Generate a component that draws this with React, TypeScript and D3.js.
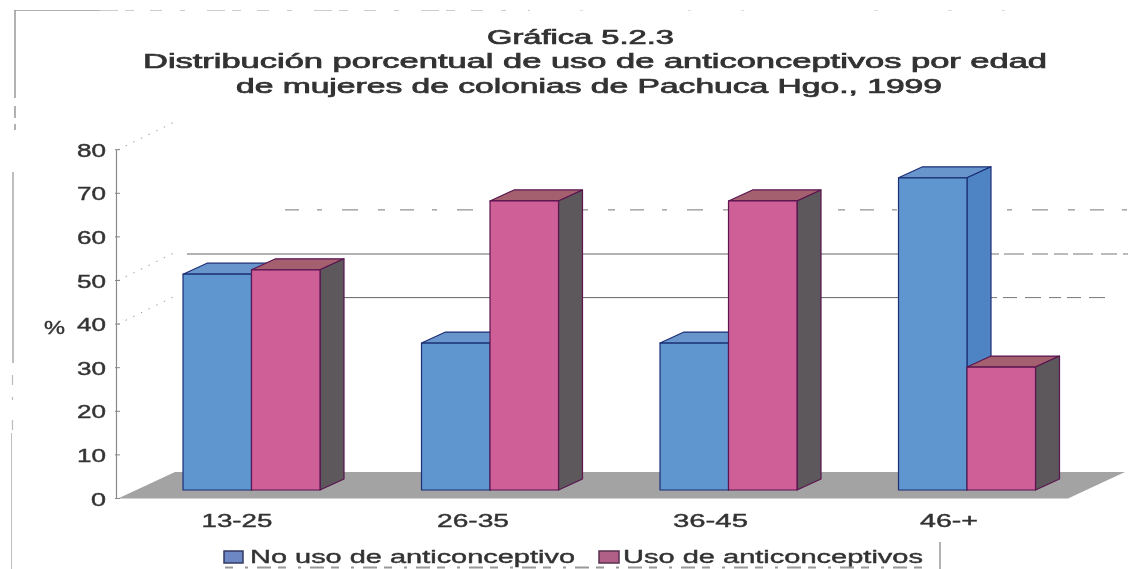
import React from "react";
import * as d3 from "d3";

const categories = ["13-25", "26-35", "36-45", "46-+"];
const seriesNames = ["No uso de anticonceptivo", "Uso de anticonceptivos"];
const noUso = [49.5, 33.7, 33.7, 71.6];
const uso = [50.5, 66.3, 66.3, 28.2];
const yTicks = [0, 10, 20, 30, 40, 50, 60, 70, 80];
const titleLines = [
  "Gráfica 5.2.3",
  "Distribución porcentual de uso de anticonceptivos por edad",
  "de mujeres de colonias de Pachuca Hgo., 1999",
];

const W = 1131, H = 569;
const FONT = "'Liberation Sans', Arial, sans-serif";
const TXT = "#333";
const COL = [
  { front: "#5f96cf", top: "#6896cc", side: "#4f84c4", edge: "#1d2f75" },
  { front: "#cf5f97", top: "#a5616f", side: "#5c585c", edge: "#5a1550" },
];

const axisY = d3.scaleLinear().domain([0, 80]).range([498.5, 149.7]);
const DX = 24, DY = 11;
const BASE = 490;
const barY = d3.scaleLinear().domain([0, 80]).range([BASE, BASE - 348.8]);
const band = d3.scaleBand<string>().domain(categories).range([132.25, 1086.25]).paddingInner(0.4256).paddingOuter(0.2128);
const inner = d3.scaleBand<string>().domain(seriesNames).range([0, band.bandwidth()]);

const poly = (pts: [number, number][]) => d3.line()(pts)! + "Z";

function T({ x, y, w, size, anchor = "start", children, sw = 0.4 }: any) {
  return (
    <text x={x} y={y} fontFamily={FONT} fontSize={size} fill={TXT} stroke={TXT} strokeWidth={sw}
      textAnchor={anchor} textLength={w} lengthAdjust="spacingAndGlyphs">
      {children}
    </text>
  );
}

function Bar({ x, w, v, c }: any) {
  const t = barY(v);
  return (
    <g stroke={c.edge} strokeWidth={1.2} strokeLinejoin="round">
      <path d={poly([[x, t], [x + DX, t - DY], [x + w + DX, t - DY], [x + w, t]])} fill={c.top} />
      <path d={poly([[x + w, t], [x + w + DX, t - DY], [x + w + DX, BASE - DY], [x + w, BASE]])} fill={c.side} />
      <rect x={x} y={t} width={w} height={BASE - t} fill={c.front} />
    </g>
  );
}

export default function App() {
  const back = 26.5;
  const floor = poly([[118, axisY(0)], [175, axisY(0) - back], [1125, axisY(0) - back], [1068, axisY(0)]]);
  const titleGeom = [
    { x: 487, w: 187, y: 44 },
    { x: 143, w: 904, y: 68 },
    { x: 236, w: 706, y: 92.5 },
  ];
  const tickW = (t: number) => (t === 0 ? 15 : 29);
  const catGeom = [
    { c: 237, w: 71 }, { c: 473, w: 72 }, { c: 710.5, w: 75 }, { c: 949, w: 58 },
  ];
  return (
    <svg width={W} height={H} viewBox={`0 0 ${W} ${H}`} style={{ position: "absolute", left: 0, top: 0, background: "#fff" }}>
      <defs>
        <filter id="soft" x="0" y="0" width="100%" height="100%"><feGaussianBlur stdDeviation="0.6" /></filter>
      </defs>
      <g filter="url(#soft)">
        {/* scanned frame */}
        <line x1={14} x2={100} y1={10} y2={10} stroke="#999" strokeWidth={1.5} />
        <line x1={100} x2={530} y1={10} y2={10} stroke="#999" strokeWidth={1.2} strokeDasharray="18 7 9 16 12 18 5 22" />
        <line x1={580} x2={1030} y1={10} y2={10} stroke="#bbb" strokeWidth={1.2} strokeDasharray="3 105 3 50 3 130 4 70 4 50" />
        <line x1={15} x2={15} y1={10} y2={130} stroke="#999" strokeWidth={1.5} strokeDasharray="88 8 12 6 6" />
        <line x1={13} x2={13} y1={172} y2={363} stroke="#aaa" strokeWidth={1.5} />
        <line x1={12.5} x2={12.5} y1={375} y2={430} stroke="#bbb" strokeWidth={1.2} strokeDasharray="10 12 3 20" />
        <line x1={11} x2={11} y1={433} y2={569} stroke="#aaa" strokeWidth={1.5} />

        {/* back wall gridlines */}
        <line x1={285} x2={1130} y1={axisY(60) - back - 0.5} y2={axisY(60) - back - 0.5} stroke="#777" strokeDasharray="14 18 5 20 16 20 7 15" />
        <line x1={187} x2={985} y1={axisY(50) - back} y2={axisY(50) - back} stroke="#666" />
        <line x1={985} x2={1128} y1={axisY(50) - back} y2={axisY(50) - back} stroke="#777" strokeDasharray="14 5 20 8 16 6" />
        <line x1={183} x2={985} y1={axisY(40) - back} y2={axisY(40) - back} stroke="#666" />
        <line x1={985} x2={1110} y1={axisY(40) - back} y2={axisY(40) - back} stroke="#777" strokeDasharray="12 6 14 8 16 8" />
        {[80, 50, 40].map((t) => (
          <line key={t} x1={118} y1={axisY(t)} x2={176} y2={axisY(t) - back - 2} stroke="#999" strokeDasharray="1.5 7" />
        ))}

        {/* floor */}
        <path d={floor} fill="#a3a3a3" />

        {/* y axis */}
        <line x1={116.5} x2={116.5} y1={axisY(80)} y2={axisY(0)} stroke="#8a8a8a" strokeWidth={1.2} />
        {yTicks.map((t) => (
          <g key={t}>
            <line x1={115} x2={120} y1={axisY(t)} y2={axisY(t)} stroke="#888" />
            <T x={106} y={axisY(t) + 7} size={18} anchor="end" w={tickW(t)}>{t}</T>
          </g>
        ))}
        <T x={44} y={333.5} size={18} w={21}>%</T>

        {/* bars */}
        {categories.map((cat, i) => {
          const x0 = band(cat)!;
          const w = inner.bandwidth();
          return (
            <g key={cat}>
              <Bar x={x0 + inner(seriesNames[0])!} w={w} v={noUso[i]} c={COL[0]} />
              <Bar x={x0 + inner(seriesNames[1])!} w={w} v={uso[i]} c={COL[1]} />
            </g>
          );
        })}

        {/* category labels */}
        {categories.map((cat, i) => (
          <T key={cat} x={catGeom[i].c} y={527} size={18} anchor="middle" w={catGeom[i].w}>{cat}</T>
        ))}

        {/* title */}
        {titleLines.map((l, i) => (
          <T key={l} x={titleGeom[i].x} y={titleGeom[i].y} w={titleGeom[i].w} size={19.5} sw={0.7}>{l}</T>
        ))}

        {/* legend */}
        <rect x={224} y={551} width={19} height={12} fill="#6d86c4" stroke="#333a60" strokeWidth={1.5} />
        <T x={250} y={563} w={325} size={18}>{seriesNames[0]}</T>
        <rect x={599} y={551} width={20} height={12} fill="#b05f86" stroke="#5a3050" strokeWidth={1.5} />
        <T x={623} y={563} w={300} size={18}>{seriesNames[1]}</T>
        <line x1={940} x2={940} y1={542} y2={569} stroke="#666" />
        <line x1={225} x2={925} y1={567.5} y2={567.5} stroke="#999" strokeWidth={2} strokeDasharray="8 12 3 9 14 7" />
      </g>
    </svg>
  );
}
